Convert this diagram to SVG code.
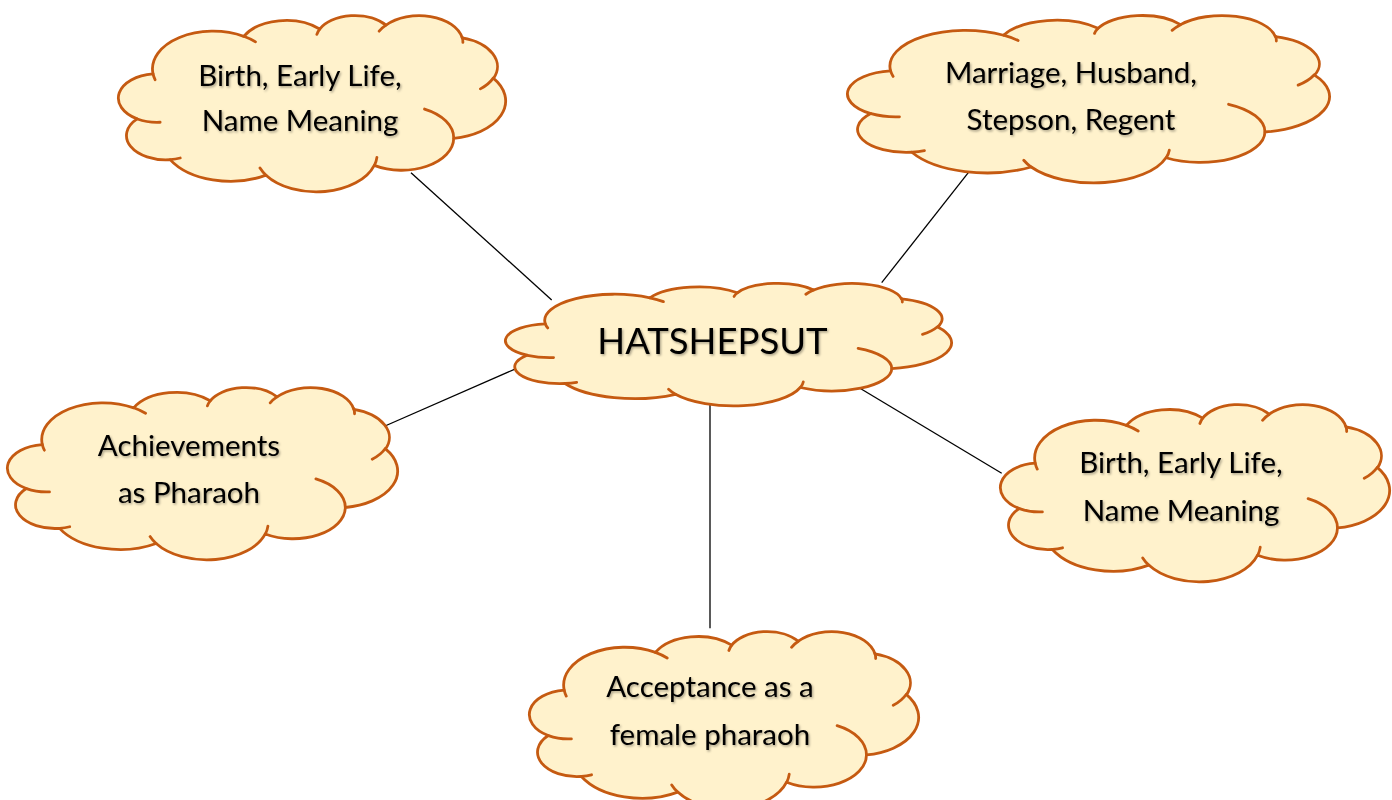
<svg xmlns="http://www.w3.org/2000/svg" xmlns:xlink="http://www.w3.org/1999/xlink" width="1392" height="800" viewBox="0 0 1392 800">
  <style>
    .outline { fill: #FFF2CC; stroke: #C55A11; stroke-width: 2.8; vector-effect: non-scaling-stroke; stroke-linejoin: round; }
    .crease { fill: none; stroke: #C55A11; stroke-width: 2.8; vector-effect: non-scaling-stroke; stroke-linecap: round; }
    .conn { stroke: #000000; stroke-width: 1.3; fill: none; }
    .lbl { font-family: Lato, "Open Sans", "Liberation Sans", sans-serif; font-size: 29.5px; fill: #000000; text-anchor: middle; filter: url(#shadow); }
    .title { font-size: 36.5px; }
  </style>
  <defs>
    <filter id="shadow" x="-10%" y="-30%" width="120%" height="160%">
      <feDropShadow dx="1.2" dy="1.5" stdDeviation="1" flood-color="#000000" flood-opacity="0.35"/>
    </filter>
    <g id="cloud">
      <path class="outline" d="M 3900 14370 A 6753 9190 0 0 1 14005 5202 A 5333 7267 0 0 1 22455 3432 A 4365 5945 0 0 1 29833 2480 A 4857 6595 0 0 1 38318 5576 A 5333 7273 0 0 1 41818 15459 A 6775 9220 0 0 1 37380 30089 A 5785 7867 0 0 1 28531 36699 A 6752 9215 0 0 1 16478 39090 A 7720 10543 0 0 1 5800 35295 A 4360 5918 0 0 1 2129 25359 A 4345 5945 0 0 1 3900 14370 Z"/>
      <path class="crease" d="M 4693 26177 A 4345 5945 0 0 1 2159 25380 M 6928 34899 A 4360 5918 0 0 1 5820 35280 M 16478 39090 A 6752 9215 0 0 1 15810 37349 M 28827 34751 A 6752 9215 0 0 1 28560 36660 M 34129 22954 A 5785 7867 0 0 1 37379 30089 M 41798 15354 A 5333 7273 0 0 1 40349 18031 M 38324 5426 A 4857 6595 0 0 1 38400 6689 M 29078 3952 A 4857 6595 0 0 1 29833 2480 M 22141 4720 A 4365 5945 0 0 1 22455 3432 M 14000 5192 A 6753 9190 0 0 1 15307 6553 M 4127 15789 A 6753 9190 0 0 1 3900 14370"/>
    </g>
  </defs>
  <rect x="0" y="0" width="1392" height="800" fill="#FFFFFF"/>

  <g id="connectors">
    <line class="conn" x1="411" y1="172.7" x2="551.7" y2="300"/>
    <line class="conn" x1="968.3" y1="172.7" x2="881.7" y2="282.7"/>
    <line class="conn" x1="385" y1="426" x2="516.7" y2="368.3"/>
    <line class="conn" x1="858.3" y1="387.3" x2="1001.7" y2="473.3"/>
    <line class="conn" x1="710" y1="405" x2="710" y2="628.3"/>
  </g>

  <g id="node-birth-top">
    <use xlink:href="#cloud" href="#cloud" transform="translate(118 15) scale(0.0089815 0.0040972)"/>
    <text class="lbl" x="300" y="86">Birth, Early Life,</text>
    <text class="lbl" x="300" y="131">Name Meaning</text>
  </g>

  <g id="node-marriage">
    <use xlink:href="#cloud" href="#cloud" transform="translate(847 15) scale(0.0111806 0.0038889)"/>
    <text class="lbl" x="1071" y="83">Marriage, Husband,</text>
    <text class="lbl" x="1071" y="130">Stepson, Regent</text>
  </g>

  <g id="node-hatshepsut">
    <use xlink:href="#cloud" href="#cloud" transform="translate(505 283) scale(0.0103472 0.0028472)"/>
    <text class="lbl title" x="712.5" y="354">HATSHEPSUT</text>
  </g>

  <g id="node-achievements">
    <use xlink:href="#cloud" href="#cloud" transform="translate(7 387) scale(0.0090509 0.0040046)"/>
    <text class="lbl" x="189" y="456">Achievements</text>
    <text class="lbl" x="189" y="503">as Pharaoh</text>
  </g>

  <g id="node-birth-right">
    <use xlink:href="#cloud" href="#cloud" transform="translate(1000 404) scale(0.0090278 0.0041204)"/>
    <text class="lbl" x="1181" y="473">Birth, Early Life,</text>
    <text class="lbl" x="1181" y="521">Name Meaning</text>
  </g>

  <g id="node-acceptance">
    <use xlink:href="#cloud" href="#cloud" transform="translate(529 631) scale(0.0090278 0.0041204)"/>
    <text class="lbl" x="710" y="697">Acceptance as a</text>
    <text class="lbl" x="710" y="745">female pharaoh</text>
  </g>
</svg>
